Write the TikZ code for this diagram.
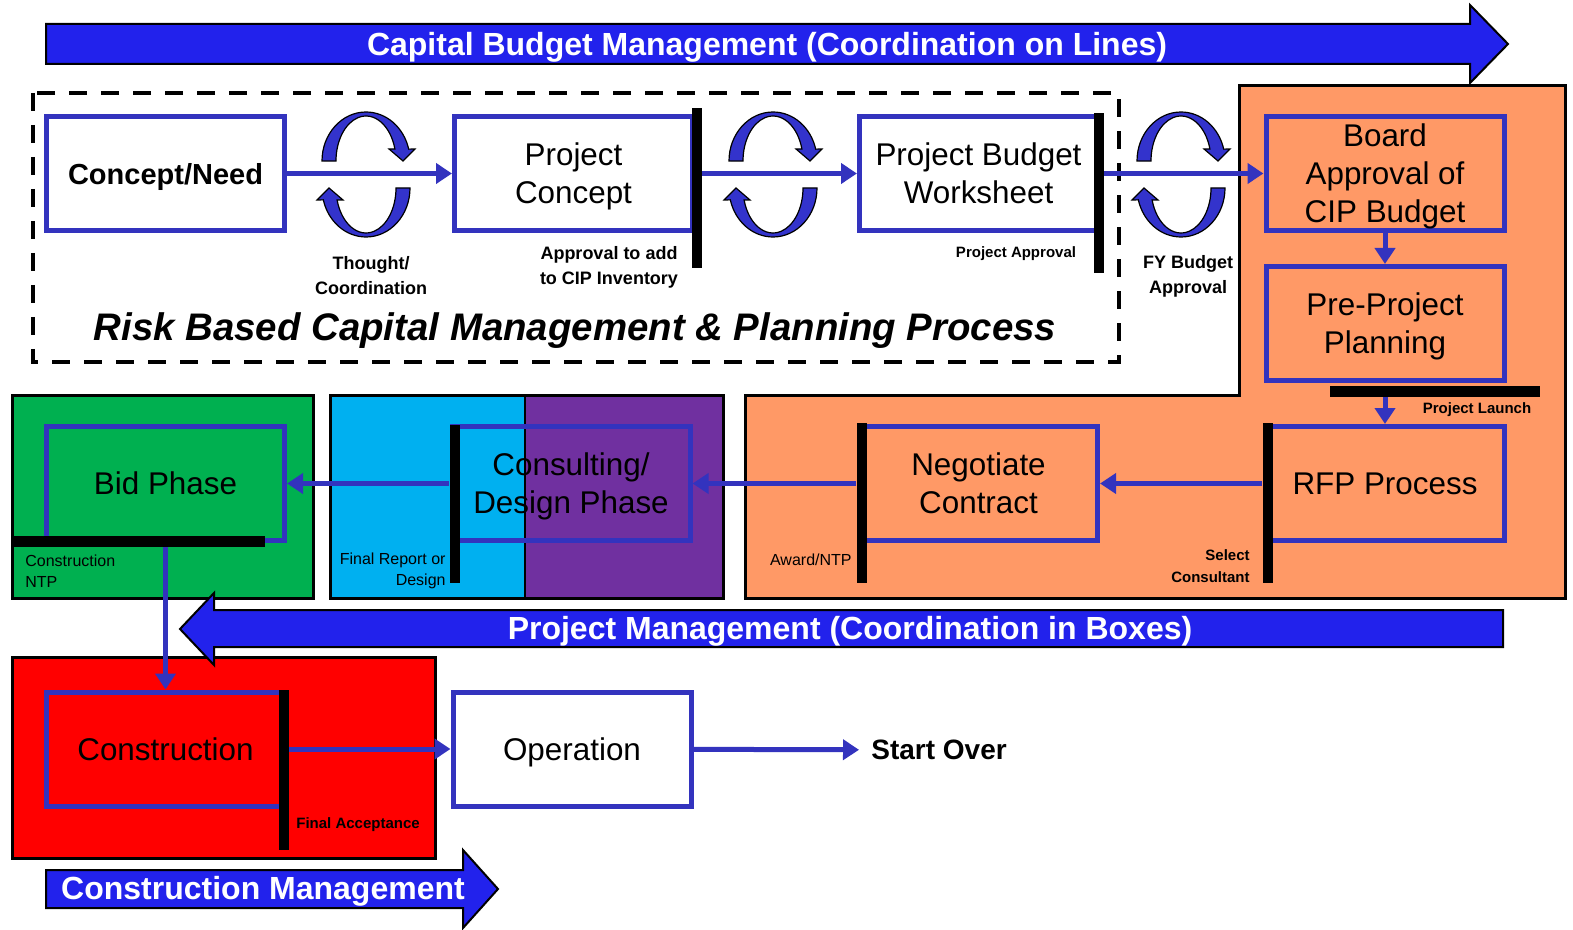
\documentclass[tikz,border=0pt]{standalone}
\usepackage{fontspec}
\setmainfont{Liberation Sans}
\usetikzlibrary{arrows.meta}

\definecolor{boxblue}{RGB}{51,51,190}
\definecolor{bandblue}{RGB}{34,34,236}
\definecolor{swirlblue}{RGB}{51,51,204}
\definecolor{orangebg}{RGB}{255,153,102}
\definecolor{greenbg}{RGB}{0,176,80}
\definecolor{cyanbg}{RGB}{0,176,240}
\definecolor{purplebg}{RGB}{112,48,160}
\definecolor{redbg}{RGB}{255,0,0}

\begin{document}
\begin{tikzpicture}[x=0.5pt,y=-0.5pt]
		\tikzstyle{phase}=[draw=boxblue,line width=2.5pt,minimum width=119pt,minimum height=57pt,inner sep=0pt,text depth=0pt,align=center,font=\fontsize{15.7}{19}\selectfont]
		\tikzstyle{gate}=[fill=black,inner sep=0pt,minimum width=5pt,minimum height=80pt]
		\tikzstyle{flow}=[draw=boxblue,line width=2.5pt,-{Triangle[length=8pt,width=10pt]}]
		\tikzstyle{stage}=[draw=black,line width=1.5pt]
		\tikzstyle{band}=[draw=black,line width=1pt,fill=bandblue]
		\tikzstyle{bandtext}=[text=white,inner sep=0pt,font=\fontsize{16}{18}\selectfont\bfseries]
		\tikzstyle{note}=[align=center,inner sep=0pt,font=\fontsize{9}{12.5}\selectfont\bfseries]
		\tikzstyle{tinynote}=[align=center,inner sep=0pt,font=\fontsize{7.5}{9}\selectfont\bfseries]
		\tikzstyle{smallnote}=[align=right,inner sep=0pt,font=\fontsize{8}{10.5}\selectfont]
		\tikzset{swirl/.pic={
			\filldraw[draw=black,fill=swirlblue,line width=0.6pt] (-44,0) arc[start angle=180,end angle=346,x radius=44,y radius=49] -- (49,-12) -- (37,0) -- (23,-12) -- (28.9,-12) arc[start angle=344.5,end angle=180,x radius=30,y radius=45] -- cycle;
		}}
		
		\useasboundingbox (0,0) rectangle (1573,930);
		
		\draw[stage,fill=orangebg] (1239,86) -- (1565,86) -- (1565,598) -- (745,598) -- (745,396) -- (1239,396) -- cycle;
		\draw[stage,fill=greenbg] (12,396) rectangle (313,598);
		\fill[cyanbg] (330,396) rectangle (525,598);
		\fill[purplebg] (525,396) rectangle (723,598);
		\draw[black,line width=0.6pt] (525,396) -- (525,598);
		\draw[stage] (330,396) rectangle (723,598);
		\draw[stage,fill=redbg] (12,657) rectangle (435,858);
		\draw[black,line width=2pt,dash pattern=on 9pt off 7pt] (33,93) rectangle (1119,362);
		
		\node[phase,font=\fontsize{14.5}{17}\selectfont\bfseries] (need) at (165.5,173.5) {Concept/Need};
		\node[phase] (pc) at (573.5,173.5) {Project\\Concept};
		\node[phase] (wks) at (978.5,173.5) {Project Budget\\Worksheet};
		\node[phase] (board) at (1385,173.5) {Board\\Approval of\\CIP Budget};
		\node[phase] (pre) at (1385,323.5) {Pre-Project\\Planning};
		\node[phase] (rfp) at (1385,483.5) {RFP Process};
		\node[phase] (neg) at (978.5,483.5) {Negotiate\\Contract};
		\node[phase] (design) at (571,483.5) {Consulting/\\Design Phase};
		\node[phase] (bid) at (165.5,483.5) {Bid Phase};
		\node[phase] (build) at (165.5,749) {Construction};
		\node[phase] (oper) at (572,749) {Operation};
		\node[anchor=west,inner sep=6pt,font=\fontsize{14}{17}\selectfont\bfseries] (restart) at (859,750) {Start Over};
		
		\node[gate] (gpc) at (697,188) {};
		\node[gate] (gwks) at (1099,193) {};
		\node[gate,minimum width=105pt,minimum height=5.5pt] (glaunch) at (1435,391.5) {};
		\node[gate] (grfp) at (1267.5,503) {};
		\node[gate] (gneg) at (861.5,503) {};
		\node[gate,minimum height=79pt] (gdes) at (454.5,504) {};
		\node[gate,minimum width=126.5pt,minimum height=5.5pt] (gbid) at (138.5,541.5) {};
		\node[gate] (gbuild) at (283.5,770) {};
		
		\draw[flow] (need) -- (pc);
		\draw[flow] (gpc.east |- wks.west) -- (wks.west);
		\draw[flow] (gwks.east |- board.west) -- (board.west);
		\draw[flow] (board) -- (pre);
		\draw[flow] (glaunch.south -| rfp.north) -- (rfp.north);
		\draw[flow] (grfp.west |- neg.east) -- (neg.east);
		\draw[flow] (gneg.west |- design.east) -- (design.east);
		\draw[flow] (gdes.west |- bid.east) -- (bid.east);
		\draw[flow] (gbid.south -| build.north) -- (build.north);
		\draw[flow] (gbuild.east |- oper.west) -- (oper.west);
		\draw[flow] (oper) -- (restart);
		
		\pic at (366,161) {swirl};
		\pic[rotate=180] at (366,188) {swirl};
		\pic at (773,161) {swirl};
		\pic[rotate=180] at (773,188) {swirl};
		\pic at (1181,161) {swirl};
		\pic[rotate=180] at (1181,188) {swirl};
		
		\node[note] (thought) at (371,276) {Thought/\\Coordination};
		\node[note] (cipadd) at (609,267) {Approval to add\\to CIP Inventory};
		\node[tinynote] (papp) at (1016,254) {Project Approval};
		\node[note] (fyb) at (1188,276) {FY Budget\\Approval};
		\node[font=\fontsize{19.2}{22}\selectfont\bfseries\itshape] (risk) at (575,331) {Risk Based Capital Management \& Planning Process};
		\node[tinynote] (launch) at (1477,410) {Project Launch};
		\node[smallnote,font=\fontsize{7.5}{11}\selectfont\bfseries,anchor=east] (selc) at (1250,566) {Select\\Consultant};
		\node[smallnote,anchor=east] (award) at (852,560) {Award/NTP};
		\node[smallnote,anchor=east] (frep) at (446,571) {Final Report or\\Design};
		\node[smallnote,align=left,anchor=west] (cntp) at (25,571) {Construction\\NTP};
		\node[tinynote,anchor=west] (facc) at (296,825) {Final Acceptance};
		
		\draw[band] (46,24) -- (1470,24) -- (1470,5) -- (1508,44) -- (1470,83) -- (1470,64) -- (46,64) -- cycle;
		\node[bandtext] (cbm) at (767,47) {Capital Budget Management (Coordination on Lines)};
		\draw[band] (1503,610) -- (214,610) -- (214,593) -- (180,629) -- (214,665) -- (214,647) -- (1503,647) -- cycle;
		\node[bandtext] (pm) at (850,631) {Project Management (Coordination in Boxes)};
		\draw[band] (46,870) -- (463,870) -- (463,850) -- (498,889) -- (463,928) -- (463,908) -- (46,908) -- cycle;
		\node[bandtext] (cm) at (263,891) {Construction Management};
\end{tikzpicture}
\end{document}
